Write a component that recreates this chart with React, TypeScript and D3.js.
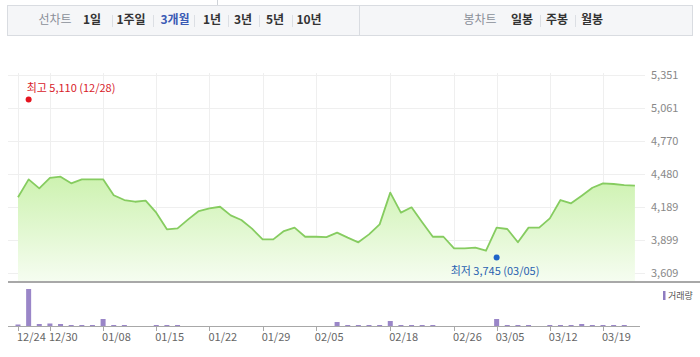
import React from "react";
import * as d3 from "d3";

const prices: number[] = [
  4275, 4433, 4354, 4445, 4456, 4398, 4433, 4433, 4433, 4293,
  4251, 4236, 4245, 4140, 3993, 4002, 4081, 4154, 4178, 4192,
  4116, 4075, 3999, 3905, 3905, 3978, 4008, 3928, 3928, 3925,
  3964, 3920, 3879, 3949, 4037, 4316, 4140, 4187, 4055, 3928,
  3928, 3826, 3826, 3832, 3805, 4008, 3996, 3879, 4008, 4008,
  4090, 4251, 4222, 4289, 4359, 4398, 4392, 4383, 4377,
];

const volumes: number[] = [
  150, 3700, 200, 250, 200, 100, 100, 100, 700, 100,
  100, 0, 0, 100, 100, 100, 0, 0, 0, 0,
  0, 0, 0, 0, 0, 0, 0, 0, 0, 0,
  400, 100, 100, 100, 100, 500, 100, 100, 100, 100,
  0, 0, 0, 0, 0, 700, 100, 100, 100, 0,
  100, 100, 100, 200, 100, 100, 100, 100, 0,
];

const tickLabels: string[] = ["12/24", "12/30", "01/08", "01/15", "01/22", "01/29", "02/05", "02/18", "02/26", "03/05", "03/12", "03/19"];
const tickIndex: number[] = [0, 3, 8, 13, 18, 23, 28, 35, 41, 45, 50, 55];
const yTicks: number[] = [5351, 5061, 4770, 4480, 4189, 3899, 3609];

const maxInfo = { index: 1, value: 5110, label: "최고 5,110 (12/28)" };
const minInfo = { index: 45, value: 3745, label: "최저 3,745 (03/05)" };

const periodItems: string[] = ["1일", "1주일", "3개월", "1년", "3년", "5년", "10년"];
const periodCenters: number[] = [92, 131, 175, 212, 243, 275, 309];
const candleItems: string[] = ["일봉", "주봉", "월봉"];
const candleCenters: number[] = [522, 557, 592];

const FONT = "'Noto Sans CJK KR', 'Noto Sans', sans-serif";

export default function App() {
  const x = d3.scaleLinear().domain([0, 55]).range([18, 603]);
  const y = d3.scaleLinear().domain([3609, 5351]).range([273, 75]);
  const vBase = 326;
  const v = d3.scaleLinear().domain([0, 3700]).range([vBase, 289]);

  const line = d3
    .line<number>()
    .x((_, i) => x(i))
    .y((d) => y(d));
  const area = d3
    .area<number>()
    .x((_, i) => x(i))
    .y0(282)
    .y1((d) => y(d));

  const sepBetween = (c: number[]) =>
    c.slice(0, -1).map((cv, i) => (cv + c[i + 1]) / 2);

  return (
    <svg
      width={700}
      height={357}
      style={{ position: "absolute", left: 0, top: 0, background: "#fff" }}
      fontFamily={FONT}
    >
      <defs>
        <linearGradient id="areaGrad" x1="0" y1="0" x2="0" y2="1">
          <stop offset="0%" stopColor="#cdf2b0" />
          <stop offset="100%" stopColor="#f6fdf1" />
        </linearGradient>
      </defs>

      {/* top fragment */}
      <line x1={217.5} y1={0} x2={217.5} y2={5} stroke="#cfd3d8" />

      {/* toolbar */}
      <rect x={7.5} y={5.5} width={685} height={30} fill="#f5f6f8" stroke="#d9dce1" />
      <line x1={359.5} y1={6} x2={359.5} y2={35} stroke="#d9dce1" />
      <text x={55} y={24} fontSize={12} fill="#8a8f98" textAnchor="middle">선차트</text>
      {periodItems.map((t, i) => (
        <text
          key={t}
          x={periodCenters[i]}
          y={24}
          fontSize={12}
          fontWeight="bold"
          fill={t === "3개월" ? "#3b5bb5" : "#333"}
          textAnchor="middle"
        >
          {t}
        </text>
      ))}
      {sepBetween(periodCenters).map((sx, i) => (
        <line key={i} x1={Math.round(sx) + 0.5} x2={Math.round(sx) + 0.5} y1={15} y2={27} stroke="#dcdfe4" />
      ))}
      <text x={480} y={24} fontSize={12} fill="#8a8f98" textAnchor="middle">봉차트</text>
      {candleItems.map((t, i) => (
        <text key={t} x={candleCenters[i]} y={24} fontSize={12} fontWeight="bold" fill="#333" textAnchor="middle">
          {t}
        </text>
      ))}
      {sepBetween(candleCenters).map((sx, i) => (
        <line key={i} x1={Math.round(sx) + 0.5} x2={Math.round(sx) + 0.5} y1={15} y2={27} stroke="#dcdfe4" />
      ))}

      {/* grid */}
      {yTicks.map((t) => (
        <line key={t} x1={8} x2={645} y1={Math.round(y(t)) + 0.5} y2={Math.round(y(t)) + 0.5} stroke="#efefef" />
      ))}
      {tickIndex.map((ti) => (
        <line key={ti} x1={Math.round(x(ti)) + 0.5} x2={Math.round(x(ti)) + 0.5} y1={73} y2={282} stroke="#efefef" />
      ))}
      {yTicks.map((t) => (
        <text key={t} x={651} y={y(t) + 4} fontSize={11} fill="#888">
          {d3.format(",")(t)}
        </text>
      ))}

      {/* price area + line */}
      <path d={area(prices) || ""} fill="url(#areaGrad)" />
      <path d={line(prices) || ""} fill="none" stroke="#86cc60" strokeWidth={1.8} strokeLinejoin="round" />

      {/* bottom axis line of price chart */}
      <line x1={8} x2={700} y1={282} y2={282} stroke="#a8a8a8" strokeWidth={2} />

      {/* max / min markers */}
      <circle cx={x(maxInfo.index)} cy={y(maxInfo.value) - 3} r={3} fill="#e5141f" />
      <text x={x(maxInfo.index) - 2} y={y(maxInfo.value) - 10} fontSize={11} fill="#d8212a">
        {maxInfo.label}
      </text>
      <circle cx={x(minInfo.index)} cy={y(minInfo.value)} r={3} fill="#1e64c8" />
      <text x={x(minInfo.index) - 46} y={y(minInfo.value) + 17} fontSize={11} fill="#2a62b0">
        {minInfo.label}
      </text>

      {/* volume */}
      {volumes.map((d, i) =>
        d > 0 ? (
          <rect
            key={i}
            x={x(i) - 2.5}
            y={v(d)}
            width={5}
            height={Math.max(1, vBase - v(d))}
            fill="#9a86c8"
          />
        ) : null
      )}
      <line x1={8} x2={640} y1={vBase + 0.5} y2={vBase + 0.5} stroke="#a8a8a8" />
      {tickIndex.map((ti, k) => (
        <g key={ti}>
          <line x1={Math.round(x(ti)) + 0.5} x2={Math.round(x(ti)) + 0.5} y1={vBase} y2={vBase + 5} stroke="#a8a8a8" />
          <text x={x(ti) - 1} y={341} fontSize={11} fill="#666" textAnchor="start">
            {tickLabels[k]}
          </text>
        </g>
      ))}
      <rect x={663} y={291} width={2.5} height={9} fill="#8f7cc0" />
      <text x={668} y={299} fontSize={9} fill="#555">거래량</text>
    </svg>
  );
}
